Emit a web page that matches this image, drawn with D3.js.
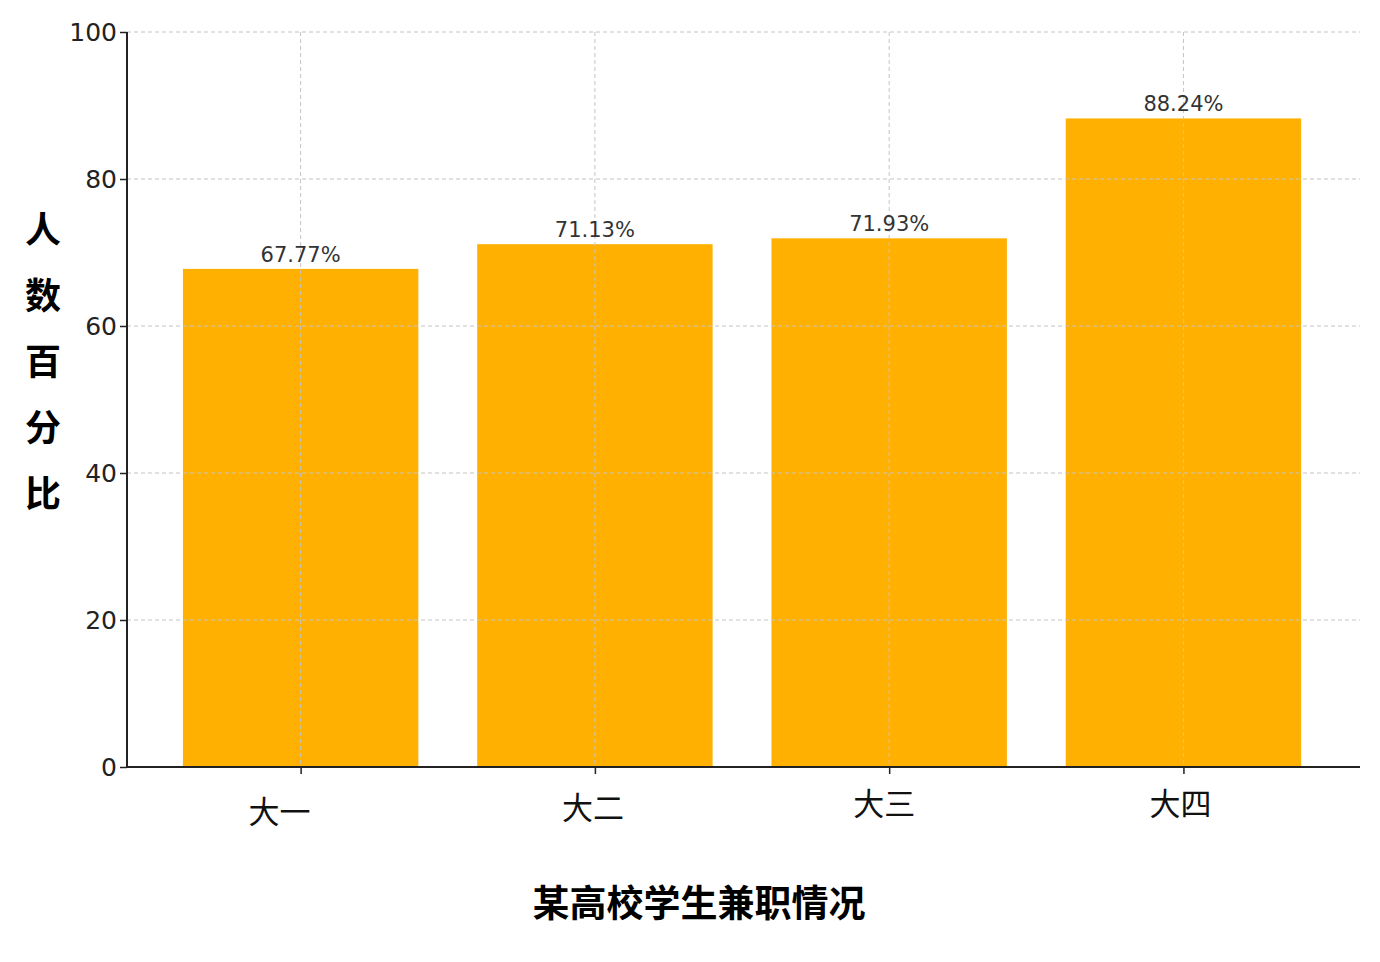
<!DOCTYPE html>
<html><head><meta charset="utf-8">
<script src="https://cdn.jsdelivr.net/npm/d3@7"></script>
<style>html,body{margin:0;padding:0;background:#fff;}</style>
</head><body>
<svg id="chart" width="1380" height="962"></svg>
<script>
const categories = ["大一", "大二", "大三", "大四"];
const values = [67.77, 71.13, 71.93, 88.24];
const valueLabels = ["67.77%", "71.13%", "71.93%", "88.24%"];
const yTicks = [0, 20, 40, 60, 80, 100];
const title = "某高校学生兼职情况";
const yLabel = "人数百分比";

// label nudges (style only)
const labelNudge = [[-21, 16], [-2, 12], [-5, 8], [-3, 8]];

const svg = d3.select("#chart");
const L = 127, R = 1360, T = 32, B = 767;
const x = d3.scaleLinear().domain([-0.59, 3.6]).range([L, R]);
const y = d3.scaleLinear().domain([0, 100]).range([B, T]);
const barW = x(0.8) - x(0);
const cjk = "'Noto Sans CJK SC', sans-serif";
const num = "'DejaVu Sans', sans-serif";

// bars
svg.append("g").selectAll("rect").data(values).join("rect")
  .attr("x", (d, i) => x(i) - barW / 2)
  .attr("y", d => y(d))
  .attr("width", barW)
  .attr("height", d => y(0) - y(d))
  .attr("fill", "#FFB000");

// grid (above bars)
const grid = svg.append("g").attr("stroke", "#c4c4c4").attr("stroke-width", 1).attr("stroke-dasharray", "4,3");
grid.selectAll("line.h").data(yTicks.filter(t => t > 0)).join("line")
  .attr("x1", L).attr("x2", R).attr("y1", d => y(d)).attr("y2", d => y(d));
grid.selectAll("line.v").data(categories).join("line")
  .attr("x1", (d, i) => x(i)).attr("x2", (d, i) => x(i)).attr("y1", T).attr("y2", B);

// y axis
const yAxis = svg.append("g").attr("transform", `translate(${L},0)`)
  .call(d3.axisLeft(y).tickValues(yTicks).tickSize(7).tickPadding(3));
yAxis.select(".domain").attr("stroke", "#222").attr("stroke-width", 2).attr("d", `M0,${T}V${B}`);
yAxis.selectAll(".tick line").attr("stroke", "#222").attr("stroke-width", 1.5);
yAxis.selectAll(".tick text").attr("font-family", num).attr("font-size", 25).attr("fill", "#222");

// x axis
const xAxis = svg.append("g").attr("transform", `translate(0,${B})`)
  .call(d3.axisBottom(x).tickValues(d3.range(categories.length)).tickSize(7).tickFormat(""));
xAxis.select(".domain").attr("stroke", "#222").attr("stroke-width", 2).attr("d", `M${L},0H${R}`);
xAxis.selectAll(".tick line").attr("stroke", "#222").attr("stroke-width", 1.5);

svg.append("g").selectAll("text").data(categories).join("text")
  .attr("x", (d, i) => x(i) + labelNudge[i][0])
  .attr("y", (d, i) => B + 40 + labelNudge[i][1])
  .attr("text-anchor", "middle")
  .attr("font-family", cjk).attr("font-size", 31).attr("fill", "#111")
  .text(d => d);

// value labels
svg.append("g").selectAll("text").data(values).join("text")
  .attr("x", (d, i) => x(i))
  .attr("y", d => y(d) - 7)
  .attr("text-anchor", "middle")
  .attr("font-family", num).attr("font-size", 21).attr("fill", "#333")
  .text((d, i) => valueLabels[i]);

// y label stacked chars
svg.append("g").selectAll("text").data(Array.from(yLabel)).join("text")
  .attr("x", 43).attr("y", (d, i) => 227 + i * 66)
  .attr("text-anchor", "middle").attr("dominant-baseline", "central")
  .attr("font-family", cjk).attr("font-weight", "bold").attr("font-size", 36).attr("fill", "#000")
  .text(d => d);

// title
svg.append("text").attr("x", 699).attr("y", 901)
  .attr("text-anchor", "middle").attr("dominant-baseline", "central")
  .attr("font-family", cjk).attr("font-weight", "bold").attr("font-size", 37).attr("fill", "#000")
  .text(title);
</script>
</body></html>
